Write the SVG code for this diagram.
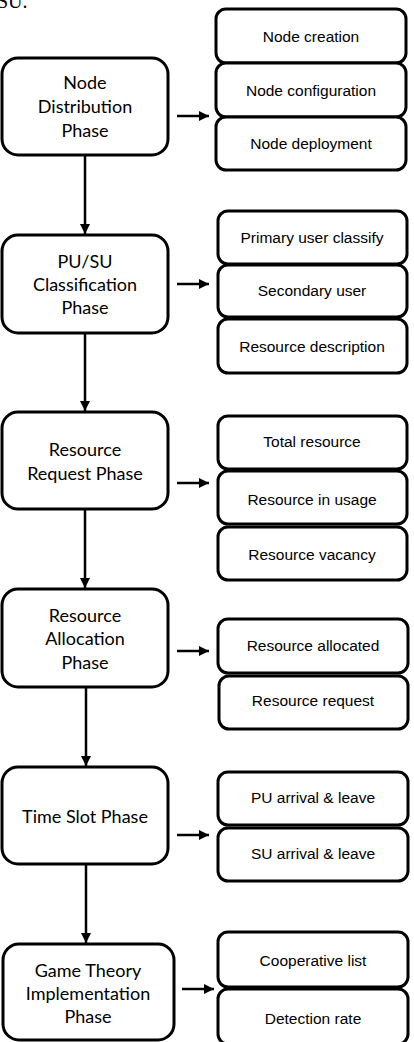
<svg xmlns="http://www.w3.org/2000/svg" width="414" height="1042" viewBox="0 0 414 1042">
<defs>
<style>
.phase rect{fill:#fff;stroke:#000;stroke-width:3}
.phase text{font-family:Lato,"Open Sans",sans-serif;font-size:18px;fill:#000;text-anchor:middle}
.item rect{fill:#fff;stroke:#000;stroke-width:3}
.item text{font-family:"Liberation Sans",Arial,sans-serif;font-size:15.5px;fill:#000;text-anchor:middle}
.conn line{stroke:#000;stroke-width:2.5;fill:none}
</style>
<marker id="ah" viewBox="0 0 10 10" refX="10" refY="5" markerWidth="4" markerHeight="4" orient="auto" markerUnits="strokeWidth">
<path d="M0,0 L10,5 L0,10 Z" fill="#000"/>
</marker>
</defs>
<rect width="414" height="1042" fill="#fff"/>
<text x="-3" y="8" font-family="Liberation Serif,serif" font-size="20" fill="#000">SU.</text>

<g id="p1" class="phase"><rect x="2" y="58" width="166" height="97" rx="16"/>
<text x="85" y="89">Node</text><text x="85" y="113">Distribution</text><text x="85" y="137">Phase</text></g>
<g id="p2" class="phase"><rect x="2" y="235" width="166" height="98" rx="16"/>
<text x="85" y="268">PU/SU</text><text x="85" y="291">Classification</text><text x="85" y="314">Phase</text></g>
<g id="p3" class="phase"><rect x="2" y="412" width="166" height="97" rx="16"/>
<text x="85" y="456">Resource</text><text x="85" y="480">Request Phase</text></g>
<g id="p4" class="phase"><rect x="2" y="589" width="166" height="98" rx="16"/>
<text x="85" y="622">Resource</text><text x="85" y="645">Allocation</text><text x="85" y="669">Phase</text></g>
<g id="p5" class="phase"><rect x="2" y="767" width="166" height="97" rx="16"/>
<text x="85" y="823">Time Slot Phase</text></g>
<g id="p6" class="phase"><rect x="3" y="944" width="171" height="96" rx="16"/>
<text x="88" y="977">Game Theory</text><text x="88" y="1000">Implementation</text><text x="88" y="1023">Phase</text></g>

<g id="i1a" class="item"><rect x="216" y="9" width="190" height="54" rx="10"/><text x="311" y="42">Node creation</text></g>
<g id="i1b" class="item"><rect x="216" y="63" width="190" height="54" rx="10"/><text x="311" y="96">Node configuration</text></g>
<g id="i1c" class="item"><rect x="216" y="117" width="190" height="53" rx="10"/><text x="311" y="149">Node deployment</text></g>

<g id="i2a" class="item"><rect x="218" y="211" width="189" height="53" rx="10"/><text x="312" y="243">Primary user classify</text></g>
<g id="i2b" class="item"><rect x="218" y="265" width="189" height="52" rx="10"/><text x="312" y="296">Secondary user</text></g>
<g id="i2c" class="item"><rect x="218" y="319" width="189" height="54" rx="10"/><text x="312" y="352">Resource description</text></g>

<g id="i3a" class="item"><rect x="218" y="416" width="189" height="53" rx="10"/><text x="312" y="447">Total resource</text></g>
<g id="i3b" class="item"><rect x="218" y="471" width="189" height="53" rx="10"/><text x="312" y="505">Resource in usage</text></g>
<g id="i3c" class="item"><rect x="218" y="527" width="189" height="53" rx="10"/><text x="312" y="560">Resource vacancy</text></g>

<g id="i4a" class="item"><rect x="218" y="619" width="190" height="54" rx="10"/><text x="313" y="651">Resource allocated</text></g>
<g id="i4b" class="item"><rect x="219" y="676" width="189" height="53" rx="10"/><text x="313" y="706">Resource request</text></g>

<g id="i5a" class="item"><rect x="218" y="772" width="190" height="53" rx="10"/><text x="313" y="803">PU arrival &amp; leave</text></g>
<g id="i5b" class="item"><rect x="218" y="828" width="190" height="53" rx="10"/><text x="313" y="859">SU arrival &amp; leave</text></g>

<g id="i6a" class="item"><rect x="218" y="932" width="190" height="55" rx="10"/><text x="313" y="966">Cooperative list</text></g>
<g id="i6b" class="item"><rect x="218" y="989" width="190" height="55" rx="10"/><text x="313" y="1024">Detection rate</text></g>

<g id="connectors" class="conn">
<line x1="85" y1="155" x2="85" y2="234" marker-end="url(#ah)"/>
<line x1="85" y1="333" x2="85" y2="411" marker-end="url(#ah)"/>
<line x1="85" y1="509" x2="85" y2="588" marker-end="url(#ah)"/>
<line x1="86" y1="687" x2="86" y2="766" marker-end="url(#ah)"/>
<line x1="86" y1="864" x2="86" y2="943" marker-end="url(#ah)"/>
<line x1="177" y1="116" x2="209" y2="116" marker-end="url(#ah)"/>
<line x1="177" y1="284" x2="209" y2="284" marker-end="url(#ah)"/>
<line x1="177" y1="483" x2="209" y2="483" marker-end="url(#ah)"/>
<line x1="177" y1="651" x2="209" y2="651" marker-end="url(#ah)"/>
<line x1="177" y1="835" x2="209" y2="835" marker-end="url(#ah)"/>
<line x1="182" y1="989" x2="214" y2="989" marker-end="url(#ah)"/>
</g>
</svg>
